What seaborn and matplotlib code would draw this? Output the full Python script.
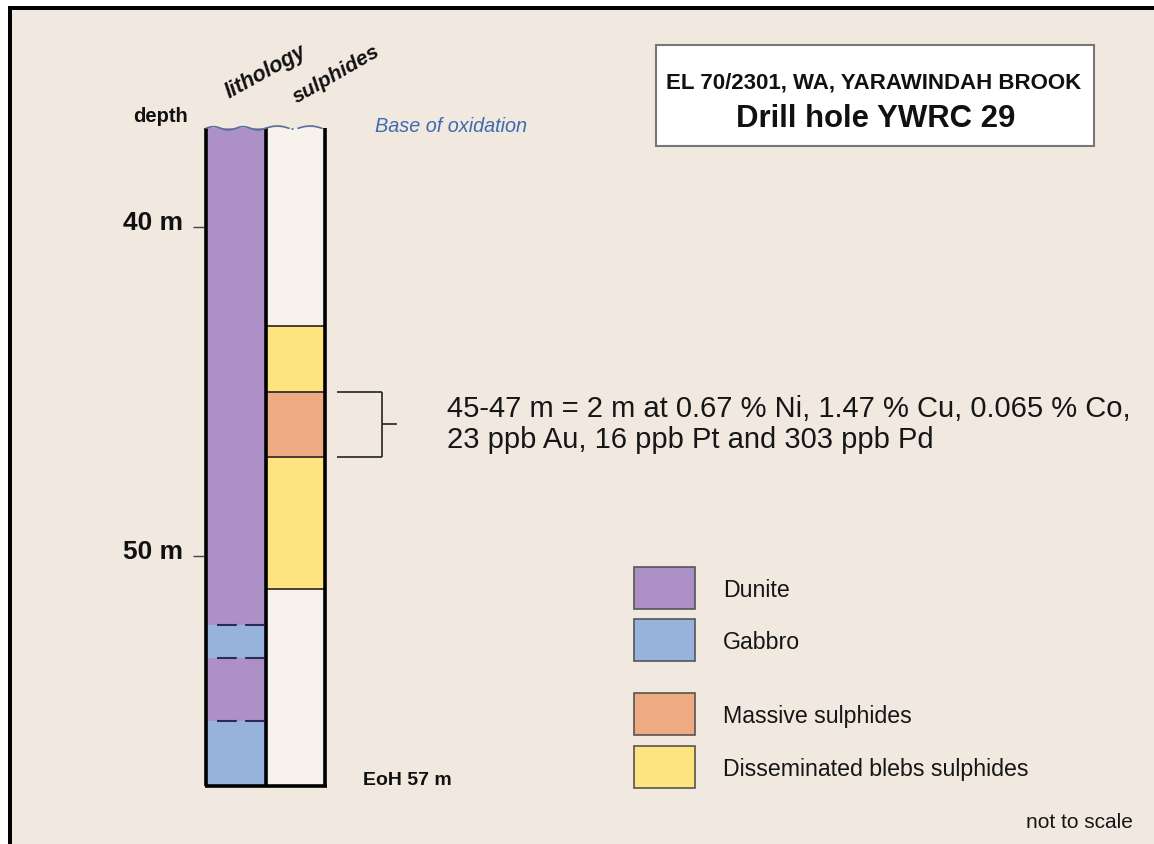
import numpy as np
import matplotlib
matplotlib.use("Agg")
import matplotlib.pyplot as plt
import seaborn as sns
from matplotlib.patches import Rectangle

# Data: drill hole YWRC 29
depth_ticks = [40, 50]
hole_top = 37
eoh = 57

lith_top = [37, 52.1, 53.1, 55]
lith_base = [52.1, 53.1, 55, 57]
lith_rock = ['Dunite', 'Gabbro', 'Dunite', 'Gabbro']

sulph_top = [37, 43, 45, 47, 51]
sulph_base = [43, 45, 47, 51, 57]
sulph_type = [None, 'Disseminated blebs sulphides', 'Massive sulphides',
              'Disseminated blebs sulphides', None]

assay_from, assay_to = 45, 47
assay_text = ("45-47 m = 2 m at 0.67 % Ni, 1.47 % Cu, 0.065 % Co,\n"
              "23 ppb Au, 16 ppb Pt and 303 ppb Pd")

legend_labels = ['Dunite', 'Gabbro', 'Massive sulphides', 'Disseminated blebs sulphides']
colors = {
    'Dunite': '#ad90c5',
    'Gabbro': '#98b3db',
    'Massive sulphides': '#eeab82',
    'Disseminated blebs sulphides': '#fde47e',
}
empty_col = '#f7f2ec'
bg = '#f1e8df'

sns.set_style('white')
plt.rcParams['font.family'] = ['Liberation Sans', 'DejaVu Sans']

W, H = 1154, 845
fig = plt.figure(figsize=(W / 100, H / 100), dpi=100)
fig.patch.set_facecolor('white')


def fx(x):
    return x / W


def fy(y):
    return 1 - y / H


# beige page with black top/left frame
fig.add_artist(Rectangle((fx(8), 0), 1, fy(7), transform=fig.transFigure,
                         facecolor=bg, edgecolor='none', zorder=0))
fig.add_artist(Rectangle((fx(8), fy(11)), 1, 4 / H, transform=fig.transFigure,
                         facecolor='black', edgecolor='none', zorder=1))
fig.add_artist(Rectangle((fx(8), 0), 3.5 / W, fy(7), transform=fig.transFigure,
                         facecolor='black', edgecolor='none', zorder=1))

ax = fig.add_axes([0, 0, 1, 1])
ax.set_xlim(0, W)
px_per_m = 32.9
ax.set_ylim(40 + (H - 228) / px_per_m, 40 - 228 / px_per_m)
ax.axis('off')
ax.patch.set_alpha(0)

lith_x0, lith_x1, sul_x1 = 206, 265.5, 325

# lithology column
lith_h = np.array(lith_base) - np.array(lith_top)
ax.bar([(lith_x0 + lith_x1) / 2] * len(lith_top), lith_h, bottom=lith_top,
       width=lith_x1 - lith_x0, color=[colors[r] for r in lith_rock],
       edgecolor='none', zorder=2)
ax.hlines(lith_top[1:], 217, lith_x1 - 2, colors='#2b2b55', lw=1.5,
          linestyles=(0, (9.5, 4)), zorder=3)

# sulphide column
sul_h = np.array(sulph_base) - np.array(sulph_top)
ax.bar([(lith_x1 + sul_x1) / 2] * len(sulph_top), sul_h, bottom=sulph_top,
       width=sul_x1 - lith_x1,
       color=[colors[s] if s else empty_col for s in sulph_type],
       edgecolor='none', zorder=2)
ax.hlines(sulph_top[1:], lith_x1, sul_x1, colors='#3a3030', lw=1.3, zorder=3)

# column outline
ax.vlines([lith_x0, lith_x1, sul_x1], hole_top, eoh, colors='black', lw=2.6, zorder=4)
ax.hlines(eoh, lith_x0 - 1.5, sul_x1 + 1.5, colors='black', lw=2.6, zorder=4)

# wavy base of oxidation
xw = np.linspace(lith_x0, lith_x1, 80)
ax.plot(xw, hole_top - 0.05 * np.sin((xw - lith_x0) / (lith_x1 - lith_x0) * 4 * np.pi),
        color='#55709a', lw=1.2, zorder=5)
for a, b in [(lith_x1, 289), (298, sul_x1 - 3)]:
    xs = np.linspace(a, b, 40)
    ax.plot(xs, hole_top - 0.07 * np.sin((xs - a) / (b - a) * np.pi),
            color='#55709a', lw=1.2, zorder=5)
ax.plot([291.5, 293], [hole_top + 0.02] * 2, color='#55709a', lw=1.2, zorder=5)

# depth ticks
ax.hlines(depth_ticks, 193, 204, colors='#444444', lw=1.0, zorder=3)
for d in depth_ticks:
    ax.text(183, d + 0.07, f'{d} m', ha='right', va='baseline',
            fontsize=19, fontweight='bold', color='#111111')

# assay bracket
ax.hlines([assay_from, assay_to], 337, 382, colors='#333333', lw=1.3)
ax.vlines(382, assay_from, assay_to, colors='#333333', lw=1.3)
ax.hlines((assay_from + assay_to) / 2, 382, 397, colors='#333333', lw=1.3)
ax.text(447, (assay_from + assay_to) / 2 - 0.03, assay_text, ha='left', va='center',
        fontsize=21, linespacing=1.12, color='#161616')

ax.text(363, eoh - 0.08, f'EoH {eoh} m', ha='left', va='baseline',
        fontsize=14, fontweight='bold', color='#111111')

# headings
fig.text(fx(133), fy(122), 'depth', ha='left', va='baseline',
         fontsize=14.5, fontweight='bold', color='#111111')
fig.text(fx(229), fy(99), 'lithology', ha='left', va='baseline', rotation=29,
         rotation_mode='anchor', fontsize=15.5, fontweight='bold', style='italic',
         color='#111111')
fig.text(fx(297), fy(104), 'sulphides', ha='left', va='baseline', rotation=30,
         rotation_mode='anchor', fontsize=15, fontweight='bold', style='italic',
         color='#111111')
fig.text(fx(375), fy(132), 'Base of oxidation', ha='left', va='baseline',
         fontsize=14.3, style='italic', color='#3b6cb0')

# title box
fig.add_artist(Rectangle((fx(656), fy(147)), (1094 - 656) / W, (147 - 46) / H,
                         transform=fig.transFigure, facecolor='white',
                         edgecolor='#777777', lw=1.5, zorder=2))
fig.text(fx(874), fy(88), 'EL 70/2301, WA, YARAWINDAH BROOK', ha='center',
         va='baseline', fontsize=16, fontweight='bold', color='#111111', zorder=3)
fig.text(fx(876), fy(127), 'Drill hole YWRC 29', ha='center', va='baseline',
         fontsize=22.4, fontweight='bold', color='#111111', zorder=3)

# legend
box_tops = [568, 620, 694, 747]
for lab, top in zip(legend_labels, box_tops):
    fig.add_artist(Rectangle((fx(634), fy(top + 42)), 61 / W, 42 / H,
                             transform=fig.transFigure, facecolor=colors[lab],
                             edgecolor='#555555', lw=1.2, zorder=2))
    fig.text(fx(723), fy(top + 29), lab, ha='left', va='baseline',
             fontsize=16.7, color='#161616')

fig.text(fx(1133), fy(828), 'not to scale', ha='right', va='baseline',
         fontsize=15, color='#161616')

fig.savefig('out.png', dpi=100, facecolor=fig.get_facecolor())
